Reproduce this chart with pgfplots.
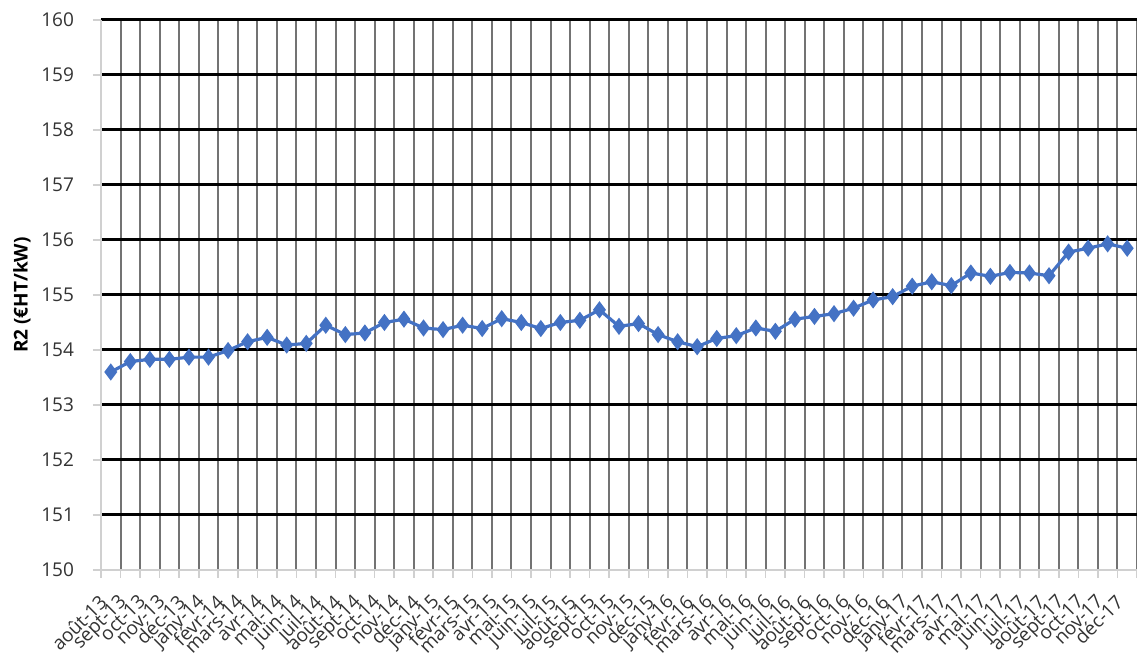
\documentclass[border=0pt]{standalone}
\usepackage{fontspec}
\setmainfont{Open Sans}
\usepackage{pgfplots}
\pgfplotsset{compat=1.18}
\usepackage{pgfplotstable}

\definecolor{serie}{HTML}{4472C4}
\definecolor{axisgray}{HTML}{D0D0D0}

% R2 monthly values, index 0 = août-13
\pgfplotstableread{
idx r2
0 153.60
1 153.79
2 153.83
3 153.83
4 153.87
5 153.87
6 153.99
7 154.15
8 154.23
9 154.09
10 154.12
11 154.45
12 154.28
13 154.31
14 154.50
15 154.56
16 154.40
17 154.37
18 154.45
19 154.39
20 154.57
21 154.50
22 154.39
23 154.50
24 154.54
25 154.73
26 154.43
27 154.48
28 154.28
29 154.15
30 154.06
31 154.21
32 154.26
33 154.40
34 154.34
35 154.56
36 154.61
37 154.66
38 154.76
39 154.91
40 154.97
41 155.16
42 155.24
43 155.17
44 155.40
45 155.34
46 155.41
47 155.40
48 155.35
49 155.78
50 155.85
51 155.93
52 155.85
}\rtwo

\begin{document}
\begin{tikzpicture}
\begin{axis}[
  scale only axis,
  width=518pt, height=275pt,
  xmin=-0.5, xmax=52.5,
  ymin=150, ymax=160,
  axis lines*=left,
  axis line style={axisgray, line width=1pt},
  /pgf/number format/assume math mode=true,
  tick label style={font=\fontsize{9.5}{11}\selectfont, text=black!80},
  % category boundaries: vertical grid and small ticks below the axis
  xtick={-0.5,0.5,...,52.5},
  xticklabels={},
  xmajorgrids,
  x grid style={black!55, line width=1pt},
  tick align=outside,
  major tick length=4pt,
  every tick/.style={axisgray, line width=0.8pt},
  % month names centred on each category
  extra x ticks={0,...,52},
  extra x tick labels={août-13,sept-13,oct-13,nov-13,déc-13,janv-14,févr-14,mars-14,avr-14,mai-14,juin-14,juil-14,août-14,sept-14,oct-14,nov-14,déc-14,janv-15,févr-15,mars-15,avr-15,mai-15,juin-15,juil-15,août-15,sept-15,oct-15,nov-15,déc-15,janv-16,févr-16,mars-16,avr-16,mai-16,juin-16,juil-16,août-16,sept-16,oct-16,nov-16,déc-16,janv-17,févr-17,mars-17,avr-17,mai-17,juin-17,juil-17,août-17,sept-17,oct-17,nov-17,déc-17},
  extra x tick style={grid=none, major tick length=0pt,
    tick label style={font=\fontsize{9.5}{10}\selectfont, xshift=-6.5pt, yshift=-10pt,
      rotate=45, anchor=north east, inner sep=1pt}},
  ytick={151,...,160},
  ymajorgrids,
  y grid style={black, line width=1.5pt},
  extra y ticks={150},
  extra y tick style={grid=none},
  yticklabel style={xshift=-6pt},
  ylabel={\textbf{R2 (€HT/kW)}},
  every axis y label/.style={at={(axis description cs:0,0.5)}, xshift=-39.5pt,
    rotate=90, anchor=center, font=\fontsize{9.5}{11}\selectfont, text=black},
  clip=false,
]
\addplot[serie, line width=1.6pt, mark=diamond*, mark size=3pt,
  mark options={fill=serie, draw=serie}] table[x=idx, y=r2] {\rtwo};
\end{axis}
\pgfresetboundingbox
\useasboundingbox (-50.5pt,-43.5pt) rectangle (518pt,285pt);
\end{tikzpicture}
\end{document}
